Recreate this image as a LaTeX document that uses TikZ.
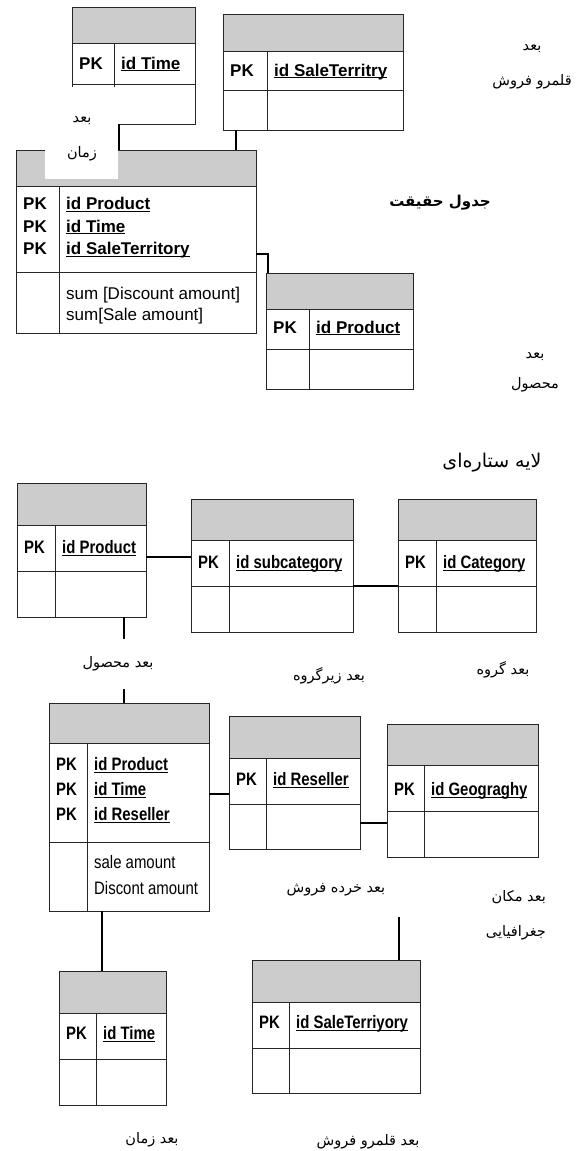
\documentclass[tikz,border=0pt]{standalone}
\usepackage{fontspec}
\setmainfont{Liberation Sans}
\newfontfamily\narrowsans[FakeStretch=0.83]{Liberation Sans}
\newfontfamily\fafont[Script=Arabic]{DejaVu Sans}
\TeXXeTstate=1
\definecolor{hdrgray}{RGB}{204,204,204}

\tikzset{
  tbl/.style={draw=black!85, line width=0.9pt},
  hdrbox/.style={tbl, fill=hdrgray, inner sep=0pt, outer sep=0pt},
  rowbox/.style={tbl, fill=white, inner sep=0pt, outer sep=0pt},
  link/.style={draw=black, line width=1.4pt},
  keytxt/.style={font=\tabfont\bfseries, inner sep=0pt},
  attrtxt/.style={font=\tabfont, inner sep=0pt, anchor=base west},
  lbl/.style={font=\fafont\fontsize{14.5}{17}\selectfont, inner sep=0pt},
  lblpair/.style={lbl, align=center, font=\fafont\fontsize{14.5}{35}\selectfont}
}
\def\tabfont{\fontsize{17}{20}\selectfont}

% thick underline for key names
\newcommand{\keyul}[1]{\setbox0=\hbox{#1}\rlap{\rule[-2.2pt]{\wd0}{1.1pt}}\box0}

% table box: name, left, right, top, header bottom, key bottom, bottom, divider x
\newcommand{\ertable}[8]{%
  \node[hdrbox, anchor=north west, minimum width={#3-#2}, minimum height={#5-#4}] (#1-h) at (#2,#4) {};
  \node[rowbox, anchor=north west, minimum width={#3-#2}, minimum height={#6-#5}] (#1-k) at (#2,#5) {};
  \node[rowbox, anchor=north west, minimum width={#3-#2}, minimum height={#7-#6}] (#1-a) at (#2,#6) {};
  \draw[tbl] (#8,#5) -- (#8,#7);
}
% key line: name, left, divider x, baseline, key
\newcommand{\keyrow}[5]{%
  \node[keytxt, anchor=base west] (#1-pk) at ({#2+7},#4) {PK};
  \node[keytxt, anchor=base west] (#1-id) at ({#3+7},#4) {\keyul{#5}};
}

\begin{document}
\begin{tikzpicture}[x=1pt,y=-1pt]
\useasboundingbox (0,0) rectangle (583,1151);

% fact table with three dimensions
\ertable{time1}{72}{195}{7}{43}{84}{124}{114}
\keyrow{time1}{72}{114}{69}{id Time}
\ertable{terr1}{223}{403}{14}{51}{90}{130}{267}
\keyrow{terr1}{223}{267}{76}{id SaleTerritry}
\ertable{fact1}{16}{256}{150}{186}{272}{333}{59}
\keyrow{fact1a}{16}{59}{209.5}{id Product}
\keyrow{fact1b}{16}{59}{232}{id Time}
\keyrow{fact1c}{16}{59}{254.5}{id SaleTerritory}
\node[attrtxt] (fact1-m1) at (66,299) {sum [Discount amount]};
\node[attrtxt] (fact1-m2) at (66,320) {sum[Sale amount]};
\ertable{prod1}{266}{413}{273}{309}{349}{389}{309}
\keyrow{prod1}{266}{309}{333}{id Product}

\draw[link] (time1-a.south -| 119,0) -- (fact1-h.north -| 119,0);
\draw[link] (terr1-a.south -| 236,0) -- (fact1-h.north -| 236,0);
\draw[link] (fact1-k.east |- 0,254) -- (268,254) -- (prod1-h.north -| 268,0);

\node[fill=white, inner sep=0pt, anchor=north west, minimum width=73, minimum height=92] (timebox) at (45,87) {};
\node[lblpair] (timelbl) at (82,138.5) {\beginR بعد\endR\\\beginR زمان\endR};
\node[lblpair] (terrlbl) at (532,66.5) {\beginR بعد\endR\\\beginR قلمرو فروش\endR};
\node[lbl, font=\fafont\bfseries\fontsize{15}{18}\selectfont] (factlbl) at (440,203) {\beginR جدول حقیقت\endR};
\node[lblpair, font=\fafont\fontsize{14.5}{30}\selectfont] (prodlbl) at (535,372) {\beginR بعد\endR\\\beginR محصول\endR};

% snowflake layer
\def\tabfont{\narrowsans\fontsize{18}{21}\selectfont}
\node[lbl, font=\fafont\fontsize{19}{22}\selectfont] (starlbl) at (492,463) {\beginR لایه ستاره^^^^200cای\endR};

\ertable{prod2}{17}{146}{483}{525}{571}{617}{55}
\keyrow{prod2}{17}{55}{553.5}{id Product}
\ertable{subcat}{191}{353}{499}{540}{586}{632}{229}
\keyrow{subcat}{191}{229}{568.5}{id subcategory}
\ertable{cat}{398}{536}{499}{540}{586}{632}{436}
\keyrow{cat}{398}{436}{568.5}{id Category}

\ertable{fact2}{49}{209}{703}{743}{842}{911}{87}
\keyrow{fact2a}{49}{87}{770.5}{id Product}
\keyrow{fact2b}{49}{87}{795.5}{id Time}
\keyrow{fact2c}{49}{87}{820.5}{id Reseller}
\node[attrtxt] (fact2-m1) at (94,868) {sale amount};
\node[attrtxt] (fact2-m2) at (94,894) {Discont amount};
\ertable{res}{229}{360}{716}{758}{804}{849}{266}
\keyrow{res}{229}{266}{785.5}{id Reseller}
\ertable{geo}{387}{538}{724}{765}{811}{857}{424}
\keyrow{geo}{387}{424}{795.5}{id Geograghy}
\ertable{time2}{59}{166}{971}{1013}{1059}{1105}{96}
\keyrow{time2}{59}{96}{1039.5}{id Time}
\ertable{terr2}{252}{420}{960}{1002}{1048}{1093}{289}
\keyrow{terr2}{252}{289}{1028.5}{id SaleTerriyory}

\draw[link] (prod2-k.east |- 0,557) -- (subcat-k.west |- 0,557);
\draw[link] (subcat-k.south east) -- (cat-k.south west);
\draw[link] (prod2-a.south -| 124,0) -- (fact2-h.north -| 124,0);
\draw[link] (fact2-k.east |- 0,794) -- (res-k.west |- 0,794);
\draw[link] (res-a.east |- 0,823) -- (geo-a.west |- 0,823);
\draw[link] (fact2-a.south -| 102,0) -- (time2-h.north -| 102,0);
\coordinate (terrstub) at (399,917);
\draw[link] (terrstub) -- (terr2-h.north -| terrstub);

\node[lbl, fill=white, minimum width=90, minimum height=50] (prod2lbl) at (118,664) {\beginR بعد محصول\endR};
\node[lbl] (subcatlbl) at (329,676) {\beginR بعد زیرگروه\endR};
\node[lbl] (catlbl) at (503,670) {\beginR بعد گروه\endR};
\node[lbl] (reslbl) at (336,890) {\beginR بعد خرده فروش\endR};
\node[lblpair, align=right, anchor=east] (geolbl) at (546,915) {\beginR بعد مکان\endR\\\beginR جغرافیایی\endR};
\node[lbl] (time2lbl) at (152,1140) {\beginR بعد زمان\endR};
\node[lbl] (terr2lbl) at (368,1142) {\beginR بعد قلمرو فروش\endR};
\end{tikzpicture}
\end{document}
